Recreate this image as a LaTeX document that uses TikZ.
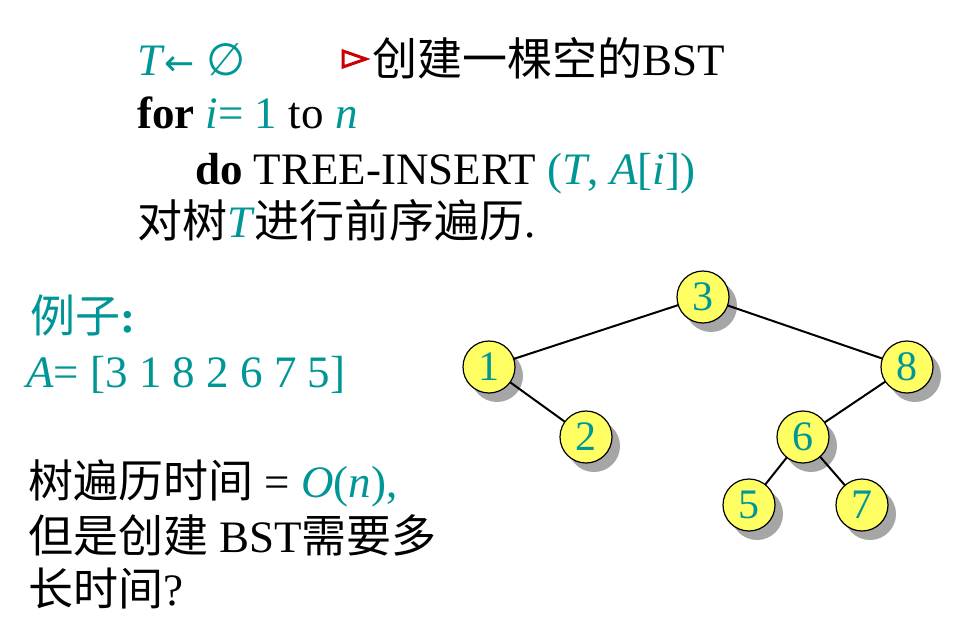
\documentclass[tikz,border=0pt]{standalone}
\usepackage{fontspec}
\setmainfont{Liberation Serif}
\newfontfamily\cjk[Scale=1.0]{Noto Sans CJK SC}
\newfontfamily\sym{DejaVu Sans}
\definecolor{teal1}{RGB}{0,150,150}
\definecolor{ylw}{RGB}{255,255,100}
\begin{document}
\begin{tikzpicture}[x=1pt,y=-1pt,
  txt/.style={anchor=base west,inner sep=0pt,font=\fontsize{45}{50}\selectfont},
  tn/.style={circle,draw=black,line width=1.2pt,fill=ylw,minimum size=52pt,inner sep=0pt,font=\fontsize{42}{42}\selectfont,text=teal1},
  edge/.style={line width=2pt}]
\useasboundingbox (0,0) rectangle (966,638);
\fill[white] (0,0) rectangle (966,638);
% code
\node[txt] (l1) at (137,75) {\textcolor{teal1}{\textit{T}{\sym\fontsize{36}{40}\selectfont ←} {\sym ∅}}};
\node[txt] (l1b) at (372,75) {{\cjk 创建一棵空的}BST};
\draw[red!80!black,line width=3pt,line join=miter] (343,51) -- (366,59) -- (343,67) -- cycle;
\node[txt] (l2) at (137,128) {\textbf{for} \textcolor{teal1}{\textit{i}= 1} to \textcolor{teal1}{\textit{n}}};
\node[txt] (l3) at (195,184) {\textbf{do} TREE-INSERT \textcolor{teal1}{(\textit{T}, \textit{A}[\textit{i}])}};
\node[txt] (l4) at (137,237) {{\cjk 对树}\textcolor{teal1}{\textit{T}}{\cjk 进行前序遍历}.};
% left
\node[txt,text=teal1] (e1) at (30,332) {{\cjk 例子}\textbf{:}};
\node[txt,text=teal1] (e2) at (26,387) {\textit{A}= [3 1 8 2 6 7 5]};
\node[txt] (q1) at (28,497) {{\cjk 树遍历时间} = \textcolor{teal1}{\textit{O}(\textit{n}),}};
\node[txt] (q2) at (28,552) {{\cjk 但是创建} BST{\cjk 需要多}};
\node[txt] (q3) at (28,605) {{\cjk 长时间}?};
% tree
\foreach \x/\y in {703/297,489/367,907/367,586/437,803/437,749/505,862/505}
  \fill[gray!70] (\x+8,\y+9) circle (26);
\draw[edge] (703,297) -- (489,367);
\draw[edge] (703,297) -- (907,367);
\draw[edge] (489,367) -- (586,437);
\draw[edge] (907,367) -- (803,437);
\draw[edge] (803,437) -- (749,505);
\draw[edge] (803,437) -- (862,505);
\node[tn] (n3) at (703,297) {3};
\node[tn] (n1) at (489,367) {1};
\node[tn] (n8) at (907,367) {8};
\node[tn] (n2) at (586,437) {2};
\node[tn] (n6) at (803,437) {6};
\node[tn] (n5) at (749,505) {5};
\node[tn] (n7) at (862,505) {7};
\end{tikzpicture}
\end{document}
